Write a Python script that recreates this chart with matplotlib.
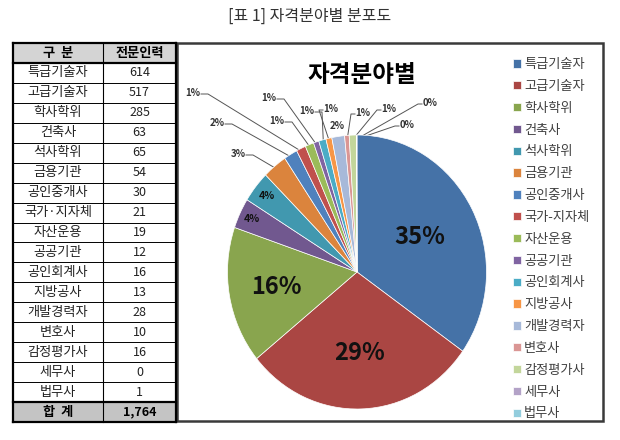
import numpy as np
import matplotlib
matplotlib.use('Agg')
import matplotlib.pyplot as plt
from matplotlib.patches import Rectangle

plt.rcParams['font.family'] = ['Noto Sans CJK KR', 'DejaVu Sans']

categories = ['특급기술자', '고급기술자', '학사학위', '건축사', '석사학위', '금용기관',
              '공인중개사', '국가·지자체', '자산운용', '공공기관', '공인회계사', '지방공사',
              '개발경력자', '변호사', '감정평가사', '세무사', '법무사']
legend_names = ['특급기술자', '고급기술자', '학사학위', '건축사', '석사학위', '금용기관',
                '공인중개사', '국가-지자체', '자산운용', '공공기관', '공인회계사', '지방공사',
                '개발경력자', '변호사', '감정평가사', '세무사', '법무사']
counts = [614, 517, 285, 63, 65, 54, 30, 21, 19, 12, 16, 13, 28, 10, 16, 0, 1]
total_text = '1,764'

colors = ['#4572A7', '#AA4643', '#89A54E', '#71588F', '#4198AF', '#DB843D',
          '#4F81BD', '#C0504D', '#9BBB59', '#8064A2', '#4BACC6', '#F79646',
          '#A7B9D9', '#DA9694', '#C3D69B', '#B3A2C7', '#93CDDD']

total = sum(counts)
pct_labels = ['%d%%' % round(c / total * 100) for c in counts]

# layout (pixels, y from top)
W, H = 620, 440
CX, CY, RX, RY = 357, 272, 129.5, 137
BOX = (177, 43, 603, 421)

fig = plt.figure(figsize=(W / 100, H / 100), dpi=100)
bg = fig.add_axes([0, 0, 1, 1])
bg.set_xlim(0, W)
bg.set_ylim(H, 0)
bg.axis('off')

# title
bg.text(310, 16, '[표 1] 자격분야별 분포도', ha='center', va='center',
        fontsize=11.5, color='#333333')

# table
col_x = [13, 103, 176]
n_rows = len(categories) + 2
top, bottom = 43, 422
rh = (bottom - top) / n_rows
bg.add_patch(Rectangle((col_x[0], top), col_x[2] - col_x[0], rh, fc='#D4D4D4', ec='none'))
bg.add_patch(Rectangle((col_x[0], bottom - rh), col_x[2] - col_x[0], rh, fc='#C4C4C4', ec='none'))
for i in range(n_rows + 1):
    y = top + i * rh
    lw = 1.6 if i in (0, 1, n_rows - 1, n_rows) else 0.7
    bg.plot([col_x[0], col_x[2]], [y, y], color='black', lw=lw)
for j, x in enumerate(col_x):
    bg.plot([x, x], [top, bottom], color='black', lw=1.6 if j != 1 else 0.8)

bg.text((col_x[0] + col_x[1]) / 2, top + rh / 2, '구  분', ha='center', va='center',
        fontsize=9.5, fontweight='bold')
bg.text((col_x[1] + col_x[2]) / 2, top + rh / 2, '전문인력', ha='center', va='center',
        fontsize=9.5, fontweight='bold')
for i, (name, c) in enumerate(zip(categories, counts)):
    y = top + (i + 1.5) * rh
    bg.text((col_x[0] + col_x[1]) / 2, y, name, ha='center', va='center', fontsize=9.5, color='#222222')
    bg.text((col_x[1] + col_x[2]) / 2, y, str(c), ha='center', va='center', fontsize=9, color='#222222')
bg.text((col_x[0] + col_x[1]) / 2, bottom - rh / 2, '합  계', ha='center', va='center',
        fontsize=9.5, fontweight='bold')
bg.text((col_x[1] + col_x[2]) / 2, bottom - rh / 2, total_text, ha='center', va='center',
        fontsize=9, fontweight='bold')

# chart area
bg.add_patch(Rectangle((BOX[0], BOX[1]), BOX[2] - BOX[0], BOX[3] - BOX[1],
                       fill=False, ec='#3A3A3A', lw=1.8))
bg.text(362, 75, '자격분야별', ha='center', va='center', fontsize=17, fontweight='bold')

ax = fig.add_axes([BOX[0] / W, (H - BOX[3]) / H, (BOX[2] - BOX[0]) / W, (BOX[3] - BOX[1]) / H])
wedges, _ = ax.pie(counts, colors=colors, startangle=90, counterclock=False,
                   wedgeprops=dict(edgecolor='white', linewidth=0.5))
ax.set_aspect('auto')
ax.set_xlim((BOX[0] - CX) / RX, (BOX[2] - CX) / RX)
ax.set_ylim((CY - BOX[3]) / RY, (CY - BOX[1]) / RY)
ax.axis('off')

def mid_angle(w):
    return np.deg2rad((w.theta1 + w.theta2) / 2)

# inside labels
inside = {0: (0.55, 17), 1: (0.59, 17), 2: (0.63, 17), 3: (0.90, 7.5), 4: (0.89, 7.5)}
for i, (r, fs) in inside.items():
    a = mid_angle(wedges[i])
    ax.text(r * np.cos(a), r * np.sin(a), pct_labels[i], ha='center', va='center',
            fontsize=fs, fontweight='bold', color='#111111')

# outside labels: text position (px) and side the leader line leaves from
outside = {5: (238, 154, 'r'), 6: (217, 123, 'r'), 7: (193, 93, 'r'), 8: (277, 121, 'r'),
           9: (269, 98, 'r'), 10: (307, 111, 'r'), 11: (331, 109, 'l'), 12: (337, 126, None),
           13: (363, 113, 'l'), 14: (389, 109, 'l'), 15: (430, 103, 'l'), 16: (407, 125, 'l')}
fig.canvas.draw()
for i, (tx, ty, side) in outside.items():
    bg.text(tx, ty, pct_labels[i], ha='center', va='center', fontsize=7,
            fontweight='bold', color='#333333')
    if side is None:
        continue
    a = mid_angle(wedges[i])
    ex, ey = ax.transData.transform((0.97 * np.cos(a), 0.97 * np.sin(a)))
    ey = H - ey
    if side == 'r':
        sx = tx + 8
        hx = sx + 7
    else:
        sx = tx - 8
        hx = sx - 4
    bg.plot([sx, hx, ex], [ty + 1, ty + 1, ey], color='#555555', lw=0.7)

ax.legend(wedges, legend_names, loc='upper left', bbox_to_anchor=(513 / W, 1 - 58 / H),
          bbox_transform=fig.transFigure, frameon=False, fontsize=9.5,
          handlelength=0.6, handleheight=0.6, handletextpad=0.25,
          labelspacing=0.67, borderpad=0, borderaxespad=0, labelcolor='#404040')

fig.savefig('out.png', dpi=100)
